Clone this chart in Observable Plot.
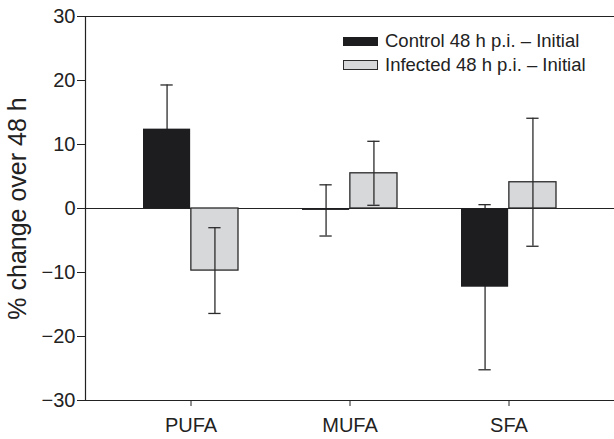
<!DOCTYPE html>
<html>
<head>
<meta charset="utf-8">
<script src="https://cdn.jsdelivr.net/npm/d3@7"></script>
<script src="https://cdn.jsdelivr.net/npm/@observablehq/plot@0.6"></script>
<style>
  html, body { margin: 0; padding: 0; background: #fff; overflow: hidden; }
  #wrap { position: relative; width: 614px; height: 439px; }
  #legend { position: absolute; left: 343px; top: 29px; font-family: "Liberation Sans", Arial, sans-serif; font-size: 18.5px; color: #222; }
  .row { display: flex; align-items: center; height: 24px; }
  .sw { width: 35px; height: 9px; margin-right: 7px; box-sizing: border-box; }
</style>
</head>
<body>
<div id="wrap"><div id="legend"></div></div>
<script>
const categories = ["PUFA", "MUFA", "SFA"];
const series = ["Control 48 h p.i. – Initial", "Infected 48 h p.i. – Initial"];
const controlMean = [12.4, -0.3, -12.3];
const controlErr = [6.9, 4.0, 12.9];
const infectedMean = [-9.7, 5.5, 4.1];
const infectedErr = [6.7, 5.0, 10.0];
const yTicks = [-30, -20, -10, 0, 10, 20, 30];
const yLabel = "% change over 48 h";

const colors = ["#1d1d1f", "#d7d8da"];
const W = 614, H = 439, mL = 85, mR = 0, mT = 16, mB = 39;
const padIn = 0.4, padOut = 0.358;
const bw = d3.scaleBand().domain(categories).range([mL, W - mR]).paddingInner(padIn).paddingOuter(padOut).bandwidth();

const control = categories.map((c, i) => ({cat: c, v: controlMean[i], lo: controlMean[i] - controlErr[i], hi: controlMean[i] + controlErr[i]}));
const infected = categories.map((c, i) => ({cat: c, v: infectedMean[i], lo: infectedMean[i] - infectedErr[i], hi: infectedMean[i] + infectedErr[i]}));

const capHalf = 6.5;
const errStyle = {stroke: "#2b2b2b", strokeWidth: 1.3};
const lineStyle = {stroke: "#222", strokeWidth: 1.2};

const chart = Plot.plot({
  width: W, height: H,
  marginTop: mT, marginLeft: mL, marginRight: mR, marginBottom: mB,
  style: {fontFamily: "'Liberation Sans', Arial, sans-serif", fontSize: "20px", color: "#222", background: "transparent"},
  x: {domain: categories, paddingInner: padIn, paddingOuter: padOut, label: null, tickSize: 6, tickPadding: 11},
  y: {domain: [-30, 30], ticks: yTicks, tickSize: 8, tickPadding: 2,
      tickFormat: d => d < 0 ? "\u2212" + Math.abs(d) : String(d),
      label: yLabel, labelArrow: false, labelAnchor: "center", labelOffset: 77},
  marks: [
    Plot.ruleY([0], lineStyle),
    Plot.ruleY([30], lineStyle),
    Plot.ruleY([-30], lineStyle),
    Plot.frame({anchor: "left", ...lineStyle}),
    Plot.ruleX(control, {x: "cat", y1: "lo", y2: "hi", dx: -bw / 4, ...errStyle}),
    Plot.tickY(control, {x: "cat", y: "hi", insetLeft: bw / 4 - capHalf, insetRight: 3 * bw / 4 - capHalf, ...errStyle}),
    Plot.tickY(control, {x: "cat", y: "lo", insetLeft: bw / 4 - capHalf, insetRight: 3 * bw / 4 - capHalf, ...errStyle}),
    Plot.barY(control, {x: "cat", y: "v", fill: colors[0], insetRight: bw / 2}),
    Plot.barY(infected, {x: "cat", y: "v", fill: colors[1], stroke: "#2a2a2a", strokeWidth: 1.3, insetLeft: bw / 2}),
    Plot.ruleX(infected, {x: "cat", y1: "lo", y2: "hi", dx: bw / 4, ...errStyle}),
    Plot.tickY(infected, {x: "cat", y: "hi", insetLeft: 3 * bw / 4 - capHalf, insetRight: bw / 4 - capHalf, ...errStyle}),
    Plot.tickY(infected, {x: "cat", y: "lo", insetLeft: 3 * bw / 4 - capHalf, insetRight: bw / 4 - capHalf, ...errStyle})
  ]
});
chart.style.position = "absolute";
chart.style.left = "0";
chart.style.top = "0";
const wrap = document.getElementById("wrap");
wrap.insertBefore(chart, wrap.firstChild);

const yl = chart.querySelector('g[aria-label="y-axis label"]');
if (yl) yl.setAttribute("font-size", "25");

const legend = document.getElementById("legend");
series.forEach((s, i) => {
  const row = document.createElement("div");
  row.className = "row";
  const sw = document.createElement("div");
  sw.className = "sw";
  sw.style.background = colors[i];
  if (i === 1) { sw.style.border = "1.3px solid #2a2a2a"; sw.style.height = "10px"; }
  const tx = document.createElement("span");
  tx.textContent = s;
  row.appendChild(sw);
  row.appendChild(tx);
  legend.appendChild(row);
});
</script>
</body>
</html>
